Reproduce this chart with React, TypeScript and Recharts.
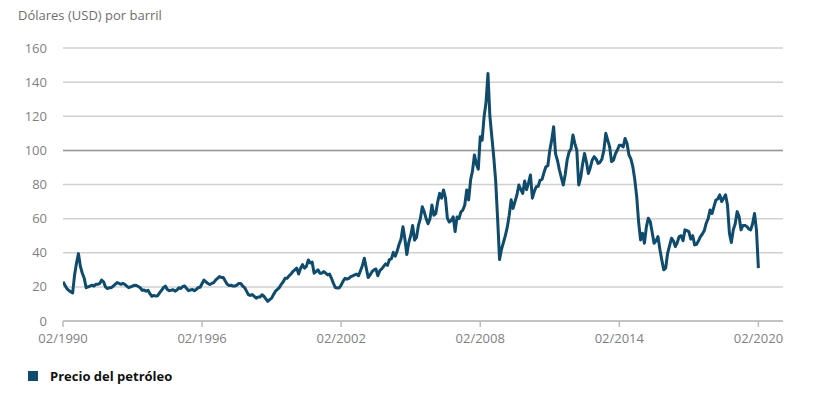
import {
  LineChart,
  Line,
  XAxis,
  YAxis,
  CartesianGrid,
  ReferenceLine,
} from 'recharts';

// Monthly oil price (USD per barrel).
// 1990s series starts in Feb 1990.
const prices1990s = [
  23, 21, 19, 18, 17, 16.5, 27, 34, 39.5, 32, 28,
  25, 19.5, 20, 20.5, 21, 20.5, 21.5, 21.5, 22, 24, 23, 20,
  19, 19.5, 19.5, 20.5, 21.5, 22.5, 22, 21.5, 22, 21.5, 20.5, 19.5,
  20, 20.5, 21, 20.8, 20.2, 19.5, 18, 18.2, 17.5, 18, 16, 14.5,
  15, 14.6, 14.8, 16.5, 18, 19.5, 20.5, 18.5, 17.8, 18, 18.3, 17.5,
  18.2, 19.5, 19, 20.2, 20.5, 19, 17.8, 18.2, 18.5, 17.8, 18.5, 19.6,
  19.8, 22, 24, 23, 22, 21.4, 22, 22.5, 24, 25, 26, 25.5,
  25.5, 23.5, 21.5, 20.8, 21, 20.5, 20.5, 21, 22, 22, 20.5, 19.6,
  17.5, 15.4, 15, 15.5, 14.5, 13.4, 14, 14, 15.4, 14.5, 13, 11.5,
  12.5, 13.4, 15.5, 17.5, 18.5, 19.6, 21.5, 23, 25.1, 25, 26.5, 27.5,
];

const prices2000s = [
  29, 30, 31, 27.5, 30.9, 33, 31, 32, 35.8, 34, 34.5, 28,
  29, 30, 28, 28, 29, 28, 27, 27.5, 25, 22, 19.6, 19.3,
  19.5, 21, 23.4, 25, 24.5, 25, 26, 26.5, 27, 27.5, 26.5, 29.5,
  32.5, 36.8, 31, 25.5, 27, 29, 30, 30.5, 26.5, 29.5, 30.5, 32,
  33.5, 32.6, 36, 36.4, 40.2, 38, 41, 45, 48, 55.3, 48, 39,
  46, 50, 56, 47.4, 49, 56, 60, 67, 64, 60, 57, 60,
  68, 62, 63, 70, 74.8, 72, 76.8, 72, 60.2, 58, 59, 61,
  52.4, 61, 60, 64, 65, 68, 76.8, 71, 82.6, 88, 97.3, 92,
  89, 108, 106, 119.8, 128, 145, 120, 108, 96, 82, 60, 36,
  42, 46, 50, 55, 62, 71, 66, 70, 74, 79.7, 77, 74.8,
];

// 2010s series runs up to Feb 2020.
const prices2010s = [
  82, 77, 81, 85.6, 72, 76, 78.7, 79, 82.6, 83, 87, 90.4,
  91, 100, 106, 113.8, 98, 94, 88.5, 84, 79.7, 86, 94.4, 99,
  101, 109, 104, 100, 79.7, 84, 92, 98.2, 93, 86.5, 90, 94.4,
  96.3, 95, 92.4, 93, 95, 100, 110, 106, 102, 93.4, 94.3, 98,
  100.2, 103, 103, 102, 107, 104, 97.3, 95, 90.4, 83, 72.9, 58,
  47.5, 51.4, 45.6, 55, 60.2, 58.3, 52, 45.6, 47, 49.5, 42, 35.8,
  30, 31, 39.7, 44, 48.5, 47, 43.6, 46, 49.5, 50, 47, 53.4,
  53, 52.4, 48, 50, 44.6, 45, 47, 49.5, 51, 53, 57.3, 60,
  65.1, 63, 67, 70.9, 71.5, 73.9, 70, 72, 74, 68, 51.5, 46,
  53.4, 57, 64.1, 61.2, 53.4, 56, 56, 55.4, 54, 53.4, 57, 63,
  53.4, 31,
];

const tickYears = [1990, 1996, 2002, 2008, 2014, 2020];
const yTicks = [0, 20, 40, 60, 80, 100, 120, 140, 160];

const FEB = 1 / 12;

function buildSeries(values: number[], year: number, month: number) {
  return values.map((price, i) => ({ t: year + (month + i) / 12, price }));
}

const data = [
  ...buildSeries(prices1990s, 1990, 1),
  ...buildSeries(prices2000s, 2000, 0),
  ...buildSeries(prices2010s, 2010, 0),
];

const font = '"Open Sans", "Noto Sans", sans-serif';
const lineColor = '#0f4b6c';

export default function App() {
  return (
    <div
      style={{
        position: 'absolute',
        left: 0,
        top: 0,
        width: 819,
        height: 396,
        background: '#fff',
        fontFamily: font,
      }}
    >
      <div
        style={{
          position: 'absolute',
          left: 18,
          top: 6,
          fontSize: 13,
          color: '#6e6e6e',
          lineHeight: '18px',
        }}
      >
        Dólares (USD) por barril
      </div>
      <LineChart
        width={819}
        height={396}
        data={data}
        margin={{ top: 48, right: 36, bottom: 45, left: 0 }}
      >
        <CartesianGrid vertical={false} stroke="#d0d0d0" strokeWidth={1.5} />
        <ReferenceLine y={100} stroke="#9a9a9a" strokeWidth={1.5} />
        <XAxis
          type="number"
          dataKey="t"
          height={30}
          domain={[1990 + FEB, 2021.145]}
          ticks={tickYears.map((y) => y + FEB)}
          tickFormatter={(v: number) => `02/${Math.floor(v)}`}
          stroke="#bdbdbd"
          strokeWidth={1.5}
          tickSize={6}
          tickMargin={7}
          tick={{ fill: '#7f7f7f', fontSize: 13 }}
          allowDataOverflow
        />
        <YAxis
          width={63}
          domain={[0, 160]}
          ticks={yTicks}
          axisLine={false}
          tickLine={false}
          tickMargin={10}
          tick={{ fill: '#7f7f7f', fontSize: 13 }}
        />
        <Line
          type="linear"
          dataKey="price"
          stroke={lineColor}
          strokeWidth={3}
          strokeLinejoin="round"
          dot={false}
          isAnimationActive={false}
        />
      </LineChart>
      <div
        style={{
          position: 'absolute',
          left: 28,
          top: 369,
          display: 'flex',
          alignItems: 'center',
          lineHeight: '14px',
        }}
      >
        <span
          style={{
            display: 'inline-block',
            width: 10,
            height: 10,
            background: lineColor,
            marginRight: 12,
          }}
        />
        <span style={{ fontSize: 13, fontWeight: 700, color: '#111' }}>
          Precio del petróleo
        </span>
      </div>
    </div>
  );
}
